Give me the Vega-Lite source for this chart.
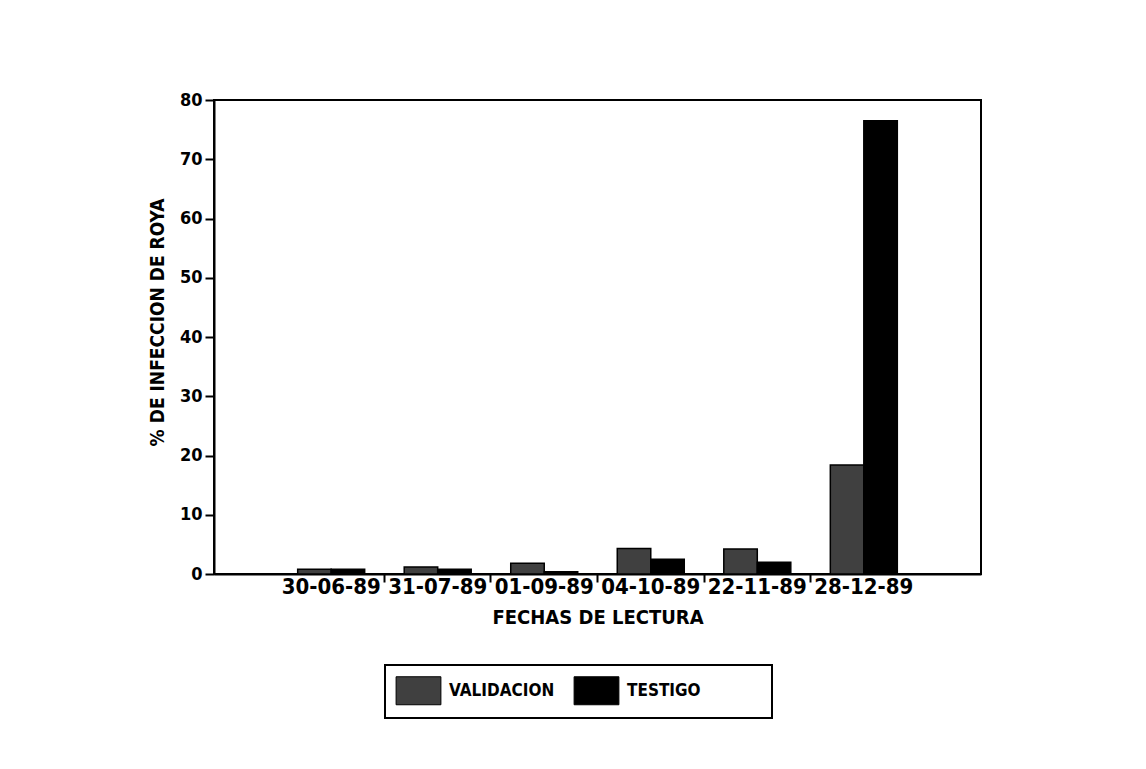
{
  "$schema": "https://vega.github.io/schema/vega-lite/v6.json",
  "autosize": {"type": "none"},
  "width": 767,
  "height": 474,
  "padding": {"left": 214, "top": 100, "right": 165, "bottom": 195},
  "background": "white",
  "config": {
    "font": "DejaVu Sans Condensed",
    "view": {"stroke": "black", "strokeWidth": 2},
    "legend": {"strokeWidth": 2},
    "axis": {
      "domainColor": "black", "domainWidth": 2, "tickColor": "black", "tickWidth": 2,
      "labelColor": "black", "labelFontWeight": "bold", "titleColor": "black", "titleFontWeight": "bold",
      "grid": false
    }
  },
  "data": {
    "values": [
      {"fecha": "30-06-89", "serie": "VALIDACION", "valor": 0.8},
      {"fecha": "30-06-89", "serie": "TESTIGO", "valor": 0.8},
      {"fecha": "31-07-89", "serie": "VALIDACION", "valor": 1.2},
      {"fecha": "31-07-89", "serie": "TESTIGO", "valor": 0.8},
      {"fecha": "01-09-89", "serie": "VALIDACION", "valor": 1.8},
      {"fecha": "01-09-89", "serie": "TESTIGO", "valor": 0.4},
      {"fecha": "04-10-89", "serie": "VALIDACION", "valor": 4.3},
      {"fecha": "04-10-89", "serie": "TESTIGO", "valor": 2.5},
      {"fecha": "22-11-89", "serie": "VALIDACION", "valor": 4.2},
      {"fecha": "22-11-89", "serie": "TESTIGO", "valor": 2.0},
      {"fecha": "28-12-89", "serie": "VALIDACION", "valor": 18.4},
      {"fecha": "28-12-89", "serie": "TESTIGO", "valor": 76.5}
    ]
  },
  "resolve": {"axis": {"x": "independent"}},
  "layer": [
    {
      "mark": {"type": "bar", "stroke": "black", "strokeWidth": 1.5},
      "encoding": {
        "x": {
          "field": "fecha", "type": "nominal", "sort": null,
          "scale": {"paddingInner": 0, "paddingOuter": 0.6},
          "axis": {
            "orient": "bottom",
            "title": "FECHAS DE LECTURA", "titleFontSize": 20, "titlePadding": 10,
            "labelAngle": 0, "labelFontSize": 22, "labelOverlap": false, "labelPadding": 2,
            "ticks": false, "domain": true
          }
        },
        "xOffset": {
          "field": "serie", "type": "nominal", "sort": ["VALIDACION", "TESTIGO"],
          "scale": {"paddingInner": 0, "paddingOuter": 0.59}
        },
        "y": {
          "field": "valor", "type": "quantitative",
          "scale": {"domain": [0, 80], "nice": false},
          "axis": {
            "title": "% DE INFECCION DE ROYA", "titleFontSize": 19, "titlePadding": 12,
            "titleY": 222,
            "values": [0, 10, 20, 30, 40, 50, 60, 70, 80],
            "labelFontSize": 18, "tickSize": 9, "labelPadding": 3
          }
        },
        "color": {
          "field": "serie", "type": "nominal",
          "scale": {"domain": ["VALIDACION", "TESTIGO"], "range": ["#404040", "black"]},
          "legend": {
            "title": null, "orient": "none", "direction": "horizontal",
            "legendX": 171, "legendY": 565,
            "strokeColor": "black", "padding": 11,
            "columns": 2,
            "symbolType": "M-1.6,-1H1.6V1H-1.6Z", "symbolSize": 784,
            "symbolStrokeColor": "black", "symbolStrokeWidth": 1,
            "symbolOffset": 8,
            "labelFontSize": 17, "labelFontWeight": "bold", "labelColor": "black",
            "labelExpr": "datum.label == 'TESTIGO' ? 'TESTIGO\u2800\u2800\u2800\u2800\u2800' : datum.label",
            "columnPadding": 17, "labelOffset": 16
          }
        }
      }
    },
    {
      "mark": {"type": "bar", "opacity": 0},
      "encoding": {
        "x": {
          "field": "fecha", "type": "nominal", "sort": null,
          "axis": {
            "orient": "bottom",
            "title": null, "labels": false, "domain": false, "ticks": true, "tickSize": 8,
            "bandPosition": 0,
            "values": ["31-07-89", "01-09-89", "04-10-89", "22-11-89", "28-12-89"]
          }
        },
        "xOffset": {"field": "serie", "type": "nominal", "sort": ["VALIDACION", "TESTIGO"]},
        "y": {"field": "valor", "type": "quantitative"}
      }
    }
  ]
}
